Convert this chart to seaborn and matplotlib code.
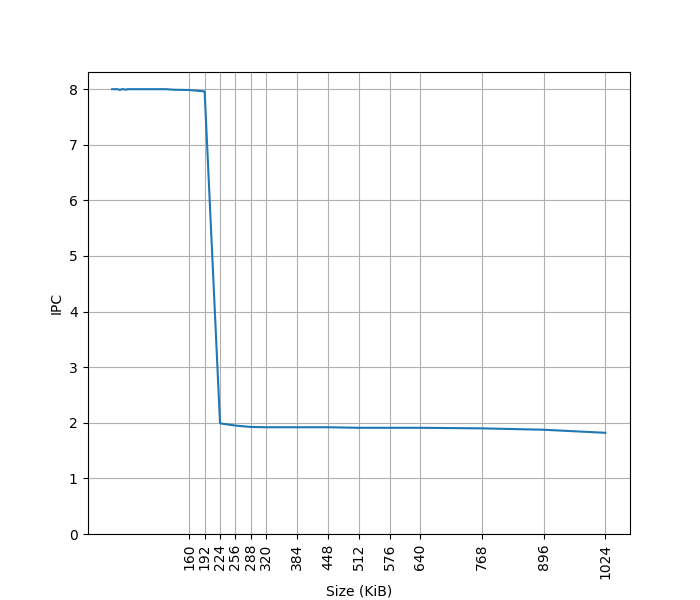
import matplotlib
matplotlib.use("Agg")
import matplotlib.pyplot as plt
import seaborn as sns
import pandas as pd

size_kib = [0, 4, 8, 12, 16, 20, 24, 28, 32, 48, 64, 96, 112, 128, 160, 192,
            224, 256, 288, 320, 384, 448, 512, 576, 640, 768, 896, 1024]
ipc = [8.0, 8.0, 8.0, 8.0, 7.985, 8.0, 8.0, 7.99, 8.0, 8.0, 8.0, 8.0, 8.0, 7.99, 7.985, 7.96,
       1.99, 1.95, 1.925, 1.92, 1.92, 1.92, 1.91, 1.91, 1.91, 1.90, 1.875, 1.82]
tick_positions = [160, 192, 224, 256, 288, 320, 384, 448, 512, 576, 640, 768, 896, 1024]

df = pd.DataFrame({"Size (KiB)": size_kib, "IPC": ipc})

fig, ax = plt.subplots(figsize=(7, 6), dpi=100)
sns.lineplot(data=df, x="Size (KiB)", y="IPC", ax=ax, color="#1f77b4", linewidth=1.5)
ax.set_xticks(tick_positions)
ax.set_xticklabels([str(t) for t in tick_positions], rotation=90)
ax.set_ylim(bottom=0)
ax.grid(True)
ax.set_xlabel("Size (KiB)")
ax.set_ylabel("IPC")
fig.savefig("out.png", dpi=100)
